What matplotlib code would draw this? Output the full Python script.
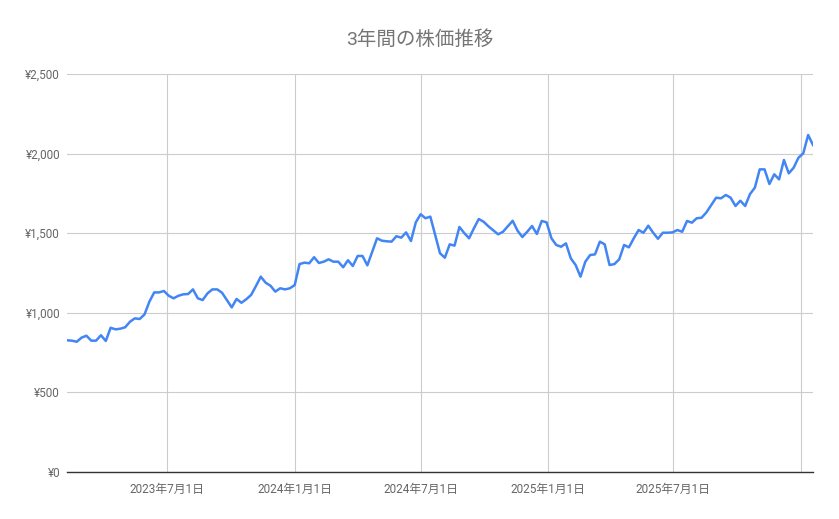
import pandas as pd
import matplotlib.pyplot as plt
import matplotlib.dates as mdates
from matplotlib.ticker import FuncFormatter, MultipleLocator

plt.rcParams['font.family'] = ['Roboto', 'Noto Sans CJK JP', 'DejaVu Sans']

# weekly closing prices
start_date = '2023-02-06'
prices = [
    827, 825, 818, 844, 856, 825, 825, 859, 823, 906, 896, 900, 909, 944, 965, 961,
    990, 1070, 1128, 1128, 1137, 1107, 1091, 1107, 1116, 1118,
    1147, 1091, 1080, 1122, 1147, 1147, 1126, 1080, 1034, 1087, 1063, 1085, 1112,
    1168, 1227, 1189, 1170, 1133, 1154, 1147, 1154, 1174, 1306, 1315, 1311,
    1349, 1313, 1321, 1336, 1321, 1321, 1286, 1330, 1294, 1357, 1357, 1298, 1384,
    1468, 1453, 1449, 1447, 1481, 1472, 1505, 1451, 1568, 1619, 1594, 1604,
    1489, 1374, 1346, 1430, 1422, 1539, 1501, 1468, 1531, 1589, 1572, 1543, 1518,
    1493, 1509, 1543, 1578, 1516, 1476, 1509, 1545, 1495, 1577, 1568,
    1468, 1426, 1415, 1436, 1342, 1300, 1227, 1321, 1363, 1367, 1447, 1430, 1300,
    1306, 1336, 1426, 1411, 1468, 1520, 1503, 1547, 1503, 1465, 1503, 1503, 1505,
    1520, 1509, 1577, 1566, 1594, 1597, 1631, 1677, 1723, 1719, 1740, 1723, 1671,
    1704, 1671, 1746, 1786, 1901, 1901, 1809, 1870, 1838, 1960, 1876, 1911, 1974,
    2002, 2117, 2054,
]
dates = pd.date_range(start_date, periods=len(prices), freq='7D')

tick_dates = pd.to_datetime(['2023-07-01', '2024-01-01', '2024-07-01',
                             '2025-01-01', '2025-07-01', '2026-01-01'])
tick_labels = ['2023年7月1日', '2024年1月1日', '2024年7月1日',
               '2025年1月1日', '2025年7月1日', '']

fig = plt.figure(figsize=(8.39, 5.19), dpi=100)
ax = fig.add_axes([0.0799, 0.0906, 0.8891, 0.7668])

ax.plot(dates, prices, color='#4285F4', lw=1.8, solid_joinstyle='round')

ax.set_xlim(dates[0], dates[-1])
ax.set_ylim(0, 2500)
ax.yaxis.set_major_locator(MultipleLocator(500))
ax.yaxis.set_major_formatter(FuncFormatter(lambda v, p: f'¥{v:,.0f}'))
ax.set_xticks(tick_dates)
ax.set_xticklabels(tick_labels)

ax.grid(True, color='#cccccc', lw=0.8)
ax.set_axisbelow(True)
for s in ['top', 'right', 'left']:
    ax.spines[s].set_visible(False)
ax.spines['bottom'].set_color('#333333')
ax.spines['bottom'].set_linewidth(1)
ax.tick_params(length=0, labelsize=8.5, labelcolor='#666666')
ax.tick_params(axis='x', pad=8)
ax.tick_params(axis='y', pad=5)

fig.text(0.5, 0.923, '3年間の株価推移', ha='center', va='center',
         fontsize=14, color='#757575')

fig.savefig('out.png', dpi=100, facecolor='white')
